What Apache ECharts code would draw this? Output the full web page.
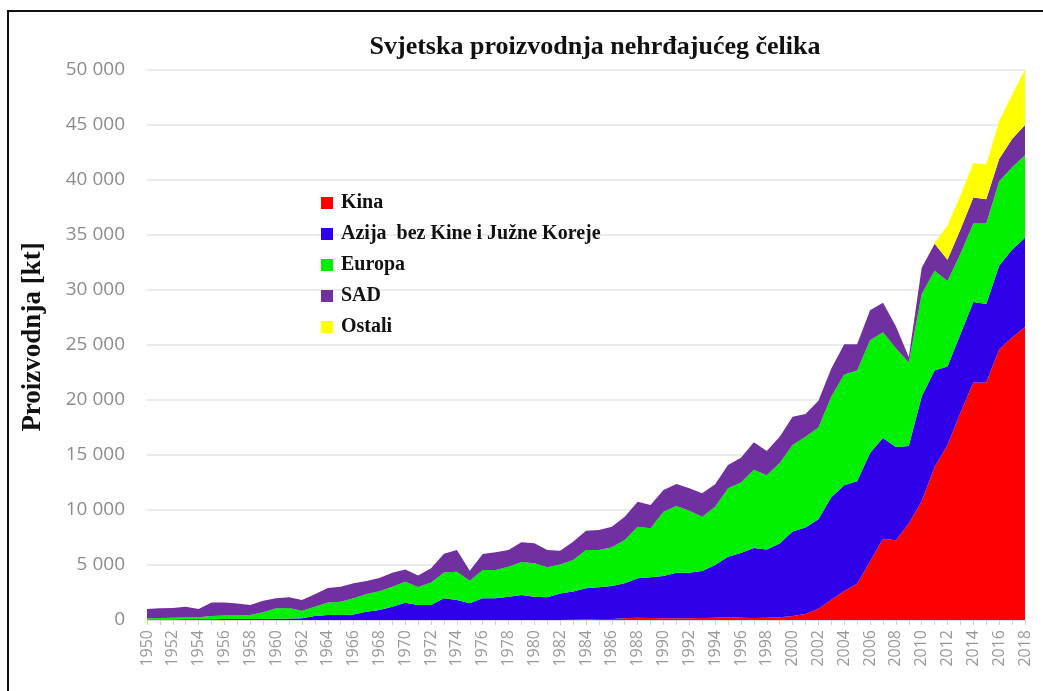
<!DOCTYPE html>
<html>
<head>
<meta charset="utf-8">
<title>Svjetska proizvodnja nehrđajućeg čelika</title>
<script src="https://cdn.jsdelivr.net/npm/echarts@6/dist/echarts.min.js"></script>
<style>
    html, body { margin: 0; padding: 0; background: #fff; }
    #frame {
        position: absolute; left: 7px; top: 10px; width: 1100px; height: 760px;
        border-left: 2px solid #111; border-top: 2px solid #111;
    }
    #chart { position: absolute; left: 0; top: 0; width: 1043px; height: 691px; }
</style>
</head>
<body>
<div id="frame"></div>
<div id="chart"></div>
<script>
    // godine 1950-2018
    const years = [];
    for (let y = 1950; y <= 2018; y++) years.push(String(y));

    // proizvodnja po regijama [kt], očitano sa slike
    const kina = [
        0, 0, 0, 0, 0, 0, 0, 0, 0, 0,
        0, 0, 0, 0, 0, 0, 0, 0, 0, 0,
        0, 0, 0, 0, 0, 0, 0, 0, 0, 0,
        0, 0, 0, 30, 50, 80, 100, 150, 200, 180,
        150, 150, 160, 180, 200, 250, 200, 180, 200, 250,
        370, 550, 1020, 1830, 2630, 3290, 5310, 7390, 7240, 8780,
        10790, 13900, 15920, 18840, 21590, 21590, 24590, 25690, 26640
    ];
    const azija = [
        50, 50, 50, 60, 60, 70, 80, 80, 90, 100,
        120, 140, 150, 360, 450, 450, 500, 760, 910, 1210,
        1560, 1360, 1360, 1970, 1820, 1520, 1970, 1970, 2120, 2270,
        2120, 2060, 2420, 2550, 2830, 2890, 2990, 3180, 3590, 3700,
        3850, 4150, 4140, 4270, 4800, 5510, 5880, 6370, 6200, 6700,
        7680, 7870, 8130, 9330, 9630, 9330, 9870, 9150, 8490, 7030,
        9520, 8790, 7130, 7140, 7310, 7130, 7610, 7970, 8120
    ];
    const europa = [
        100, 130, 150, 170, 190, 290, 320, 340, 360, 600,
        940, 960, 700, 840, 1130, 1220, 1470, 1600, 1710, 1820,
        1920, 1640, 2040, 2350, 2570, 2050, 2580, 2580, 2730, 3000,
        3030, 2730, 2630, 2870, 3480, 3390, 3520, 3940, 4690, 4450,
        5850, 6060, 5640, 4940, 5300, 6210, 6420, 7110, 6770, 7320,
        7870, 8230, 8340, 9150, 10060, 10070, 10250, 9620, 8970, 7610,
        9330, 9070, 7760, 7320, 7140, 7320, 7680, 7500, 7500
    ];
    const sad = [
        850, 880, 890, 970, 750, 1220, 1200, 1080, 910, 1060,
        910, 960, 970, 1130, 1320, 1360, 1380, 1190, 1200, 1270,
        1120, 1050, 1300, 1710, 1970, 910, 1450, 1600, 1510, 1800,
        1820, 1570, 1250, 1670, 1760, 1820, 1870, 2120, 2280, 2120,
        1970, 2000, 2030, 2130, 2050, 2120, 2260, 2490, 2200, 2380,
        2560, 2080, 2450, 2560, 2740, 2370, 2740, 2670, 2010, 480,
        2380, 2450, 1940, 2190, 2380, 2200, 2020, 2560, 2740
    ];
    const ostali = [
        0, 0, 0, 0, 0, 0, 0, 0, 0, 0,
        0, 0, 0, 0, 0, 0, 0, 0, 0, 0,
        0, 0, 0, 0, 0, 0, 0, 0, 0, 0,
        0, 0, 0, 0, 0, 0, 0, 0, 0, 0,
        0, 0, 0, 0, 0, 0, 0, 0, 0, 0,
        0, 0, 0, 0, 0, 0, 0, 0, 0, 0,
        0, 70, 3110, 3110, 3110, 3180, 3470, 4030, 5050
    ];

    const names = ['Kina', 'Azija  bez Kine i Južne Koreje', 'Europa', 'SAD', 'Ostali'];
    const colors = ['#ff0000', '#2f00e8', '#00f000', '#7030a0', '#ffff00'];
    const values = [kina, azija, europa, sad, ostali];

    const serif = '"Liberation Serif", "Times New Roman", serif';

    const myChart = echarts.init(document.getElementById('chart'), null, { renderer: 'canvas' });

    const option = {
        animation: false,
        color: colors,
        title: {
            text: 'Svjetska proizvodnja nehrđajućeg čelika',
            left: 590,
            top: 29,
            textAlign: 'center',
            textStyle: { fontFamily: serif, fontSize: 26, fontWeight: 'bold', color: '#111' }
        },
        legend: {
            orient: 'vertical',
            left: 316,
            top: 188,
            icon: 'rect',
            itemWidth: 12,
            itemHeight: 12,
            itemGap: 11,
            data: names,
            textStyle: {
                fontFamily: serif, fontSize: 20, fontWeight: 'bold', color: '#111',
                lineHeight: 20, padding: [0, 0, 0, 3]
            }
        },
        graphic: [{
            type: 'text',
            x: 33,
            y: 337,
            rotation: Math.PI / 2,
            style: {
                text: 'Proizvodnja [kt]',
                fontFamily: serif, fontSize: 27, fontWeight: 'bold', fill: '#111',
                textAlign: 'center', textVerticalAlign: 'middle'
            }
        }],
        grid: { left: 147, right: 18, top: 70, bottom: 71 },
        xAxis: {
            type: 'category',
            boundaryGap: false,
            data: years,
            axisLine: { lineStyle: { color: '#d9d9d9' } },
            axisTick: { interval: 0, length: 5, lineStyle: { color: '#d0d0d0' } },
            axisLabel: {
                interval: 1, rotate: 90, margin: 10,
                fontFamily: '"Open Sans", sans-serif', fontSize: 16, color: '#999'
            }
        },
        yAxis: {
            type: 'value',
            min: 0,
            max: 50000,
            interval: 5000,
            axisLine: { show: false },
            axisTick: { show: false },
            splitLine: { lineStyle: { color: '#ebebeb', width: 2 } },
            axisLabel: {
                margin: 22,
                fontFamily: '"Open Sans", sans-serif', fontSize: 19, color: '#8c8c8c',
                formatter: v => String(v).replace(/\B(?=(\d{3})+(?!\d))/g, ' ')
            }
        },
        series: names.map((n, i) => ({
            name: n,
            type: 'line',
            stack: 'ukupno',
            data: values[i],
            showSymbol: false,
            symbol: 'none',
            lineStyle: { width: 0 },
            areaStyle: { color: colors[i], opacity: 1 },
            itemStyle: { color: colors[i] }
        }))
    };

    myChart.setOption(option);
</script>
</body>
</html>
